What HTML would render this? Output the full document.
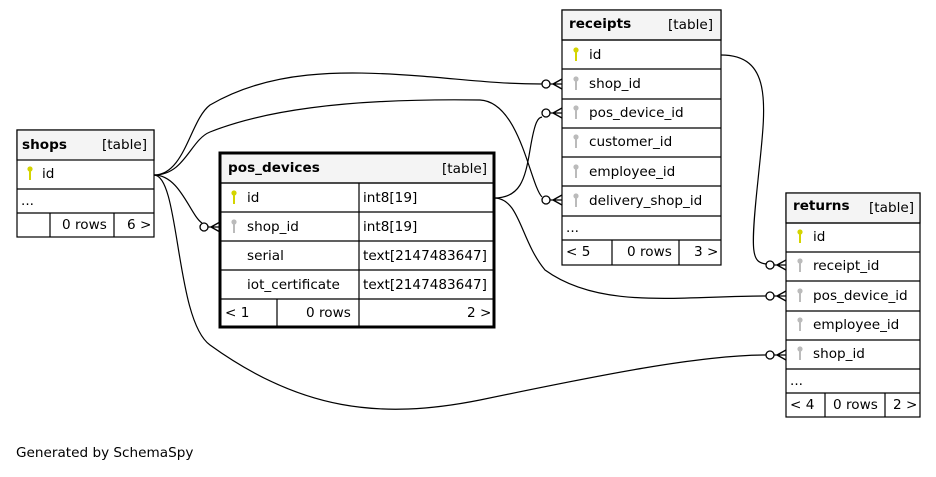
<!DOCTYPE html>
<html><head><meta charset="utf-8"><style>
body{margin:0;background:#fff;width:936px;height:472px;overflow:hidden}
text{font-family:"DejaVu Sans","Liberation Sans",sans-serif;font-size:13.6px;fill:#000}
.b{font-weight:bold}
</style></head><body>
<svg width="936" height="472" viewBox="0 0 936 472" xmlns="http://www.w3.org/2000/svg">
<defs>
<g id="pk"><circle cx="0" cy="-4" r="2.6" fill="#d4d400"/><rect x="-1" y="-3" width="2" height="10" fill="#d4d400"/></g>
<g id="fk"><circle cx="0" cy="-4" r="2.6" fill="#bbb"/><rect x="-1" y="-3" width="2" height="10" fill="#bbb"/></g>
<g id="cf" fill="none" stroke="#000" stroke-width="1.3"><circle cx="-16" cy="0" r="4" fill="#fff"/><path d="M-12,0 L0,0 M-9,0 L0,-5 M-9,0 L0,5"/></g>
</defs>
<g fill="none" stroke="#000" stroke-width="1.2">
<path d="M154,175 C185,175 190,120 210,105 C270,70 340,70 420,76 C470,80 500,84 542,84"/>
<path d="M154,175 C185,175 190,140 210,132 C260,112 340,98 480,100 C520,102 530,185 542,197"/>
<path d="M154,175 C180,175 190,215 202,223"/>
<path d="M154,175 C180,175 175,320 210,345 C300,410 380,420 480,400 C600,375 700,355 766,355"/>
<path d="M494,198 C520,198 525,180 530,150 C535,120 538,118 542,117"/>
<path d="M494,198 C520,198 520,240 545,270 C600,310 680,296 766,296"/>
<path d="M721,55 C775,55 765,110 758,180 C750,255 752,262 766,264"/>
</g>
<use href="#cf" x="562" y="84"/><use href="#cf" x="562" y="113"/><use href="#cf" x="562" y="200"/>
<use href="#cf" x="220" y="227"/><use href="#cf" x="786" y="265"/><use href="#cf" x="786" y="296"/><use href="#cf" x="786" y="355"/>

<g stroke="#000" stroke-width="1.2" fill="#fff">
<rect x="17" y="130" width="137" height="107"/>
<rect x="17" y="130" width="137" height="30" fill="#f4f4f4"/>
<path d="M17,189H154M17,213H154M50,213V237M114,213V237"/>
</g>
<text x="22" y="149" class="b">shops</text><text x="102" y="149">[table]</text>
<use href="#pk" x="30" y="173"/><text x="42" y="178">id</text>
<text x="21" y="205">...</text><text x="62" y="229">0 rows</text><text x="127" y="229">6 &gt;</text>

<g stroke="#000" stroke-width="1.2" fill="#fff">
<rect x="220" y="153" width="274" height="174"/>
<rect x="220" y="153" width="274" height="30" fill="#f4f4f4"/>
<path d="M220,183H494M220,212H494M220,241H494M220,270H494M220,299H494M359,183V327M277,299V327"/>
<rect x="220" y="153" width="274" height="174" fill="none" stroke-width="3"/>
</g>
<text x="228" y="172" class="b">pos_devices</text><text x="442" y="173">[table]</text>
<use href="#pk" x="234" y="197"/><text x="247" y="202">id</text><text x="363" y="202">int8[19]</text>
<use href="#fk" x="234" y="226"/><text x="247" y="231">shop_id</text><text x="363" y="231">int8[19]</text>
<text x="247" y="260">serial</text><text x="363" y="260">text[2147483647]</text>
<text x="247" y="289">iot_certificate</text><text x="363" y="289">text[2147483647]</text>
<text x="225" y="317">&lt; 1</text><text x="306" y="317">0 rows</text><text x="467" y="317">2 &gt;</text>

<g stroke="#000" stroke-width="1.2" fill="#fff">
<rect x="562" y="10" width="159" height="255"/>
<rect x="562" y="10" width="159" height="30" fill="#f4f4f4"/>
<path d="M562,40H721M562,69H721M562,99H721M562,128H721M562,157H721M562,186H721M562,216H721M562,240H721M612,240V265M679,240V265"/>
</g>
<text x="569" y="28" class="b">receipts</text><text x="668" y="29">[table]</text>
<use href="#pk" x="576" y="54"/><text x="589" y="59">id</text>
<use href="#fk" x="576" y="83"/><text x="589" y="88">shop_id</text>
<use href="#fk" x="576" y="112"/><text x="589" y="117">pos_device_id</text>
<use href="#fk" x="576" y="141"/><text x="589" y="146">customer_id</text>
<use href="#fk" x="576" y="171"/><text x="589" y="176">employee_id</text>
<use href="#fk" x="576" y="200"/><text x="589" y="205">delivery_shop_id</text>
<text x="566" y="232">...</text><text x="566" y="256">&lt; 5</text><text x="627" y="256">0 rows</text><text x="694" y="256">3 &gt;</text>

<g stroke="#000" stroke-width="1.2" fill="#fff">
<rect x="786" y="193" width="134" height="224"/>
<rect x="786" y="193" width="134" height="30" fill="#f4f4f4"/>
<path d="M786,223H920M786,252H920M786,281H920M786,311H920M786,340H920M786,369H920M786,393H920M825,393V417M885,393V417"/>
</g>
<text x="793" y="210" class="b">returns</text><text x="869" y="212">[table]</text>
<use href="#pk" x="800" y="236"/><text x="813" y="241">id</text>
<use href="#fk" x="800" y="265"/><text x="813" y="270">receipt_id</text>
<use href="#fk" x="800" y="295"/><text x="813" y="300">pos_device_id</text>
<use href="#fk" x="800" y="324"/><text x="813" y="329">employee_id</text>
<use href="#fk" x="800" y="353"/><text x="813" y="358">shop_id</text>
<text x="790" y="385">...</text><text x="790" y="409">&lt; 4</text><text x="833" y="409">0 rows</text><text x="893" y="409">2 &gt;</text>

<text x="16" y="457">Generated by SchemaSpy</text>
</svg>
</body></html>
